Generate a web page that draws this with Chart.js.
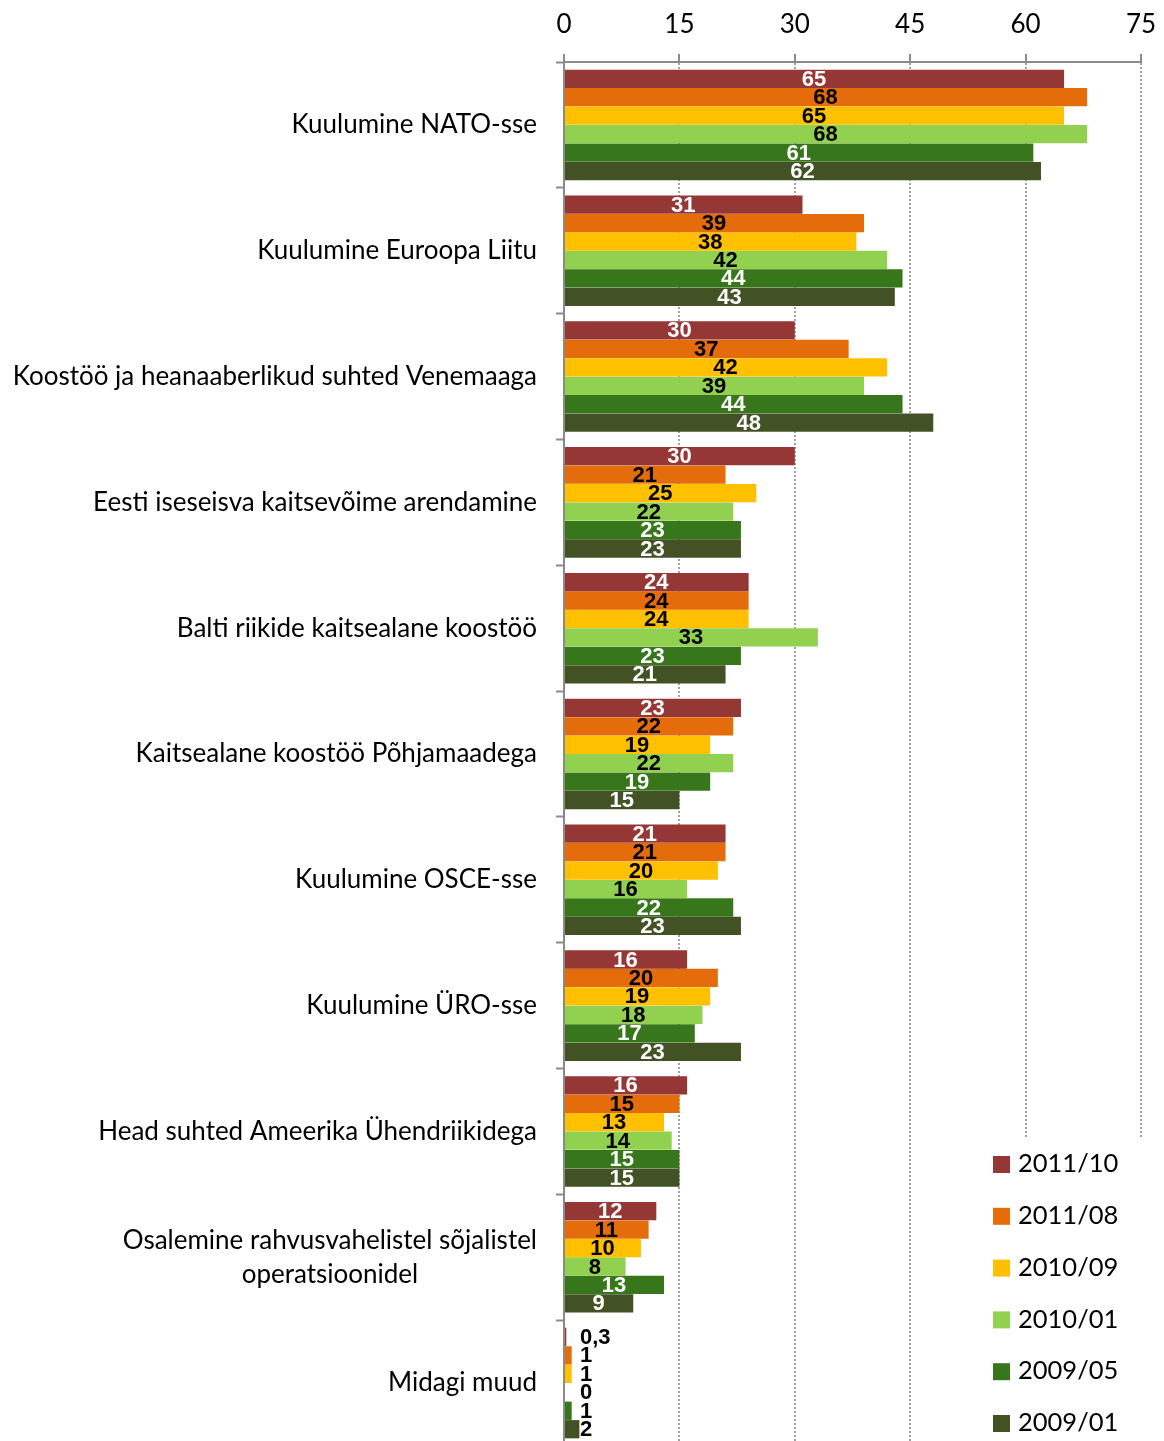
<!DOCTYPE html>
<html>
<head>
<meta charset="utf-8">
<script src="https://cdn.jsdelivr.net/npm/chart.js@4"></script>
<style>
  html, body { margin: 0; padding: 0; background: #fff; overflow: hidden; }
  #wrap { width: 1164px; height: 1446px; }
</style>
</head>
<body>
<div id="wrap"><canvas id="chart" width="1164" height="1446"></canvas></div>
<script>
var categories = [
    'Kuulumine NATO-sse',
    'Kuulumine Euroopa Liitu',
    'Koostöö ja heanaaberlikud suhted Venemaaga',
    'Eesti iseseisva kaitsevõime arendamine',
    'Balti riikide kaitsealane koostöö',
    'Kaitsealane koostöö Põhjamaadega',
    'Kuulumine OSCE-sse',
    'Kuulumine ÜRO-sse',
    'Head suhted Ameerika Ühendriikidega',
    ['Osalemine rahvusvahelistel sõjalistel', 'operatsioonidel'],
    'Midagi muud'
];
var seriesNames = ['2011/10', '2011/08', '2010/09', '2010/01', '2009/05', '2009/01'];
var s201110 = [65, 31, 30, 30, 24, 23, 21, 16, 16, 12, 0.3];
var s201108 = [68, 39, 37, 21, 24, 22, 21, 20, 15, 11, 1];
var s201009 = [65, 38, 42, 25, 24, 19, 20, 19, 13, 10, 1];
var s201001 = [68, 42, 39, 22, 33, 22, 16, 18, 14, 8, 0];
var s200905 = [61, 44, 44, 23, 23, 19, 22, 17, 15, 13, 1];
var s200901 = [62, 43, 48, 23, 21, 15, 23, 23, 15, 9, 2];
var xTicks = [0, 15, 30, 45, 60, 75];

var colors = ['#953735', '#E46C0A', '#FFC000', '#92D050', '#37761A', '#435224'];
var labelColors = ['#fff', '#000', '#000', '#000', '#fff', '#fff'];
var allSeries = [s201110, s201108, s201009, s201001, s200905, s200901];

var catFont = '26px Lato, "Open Sans", sans-serif';

var barLabels = {
    id: 'barLabels',
    afterDatasetsDraw: function(chart) {
        var ctx = chart.ctx, x = chart.scales.x;
        ctx.save();
        ctx.font = 'bold 22px "Liberation Sans Narrow", "Liberation Sans", Arial, sans-serif';
        ctx.textBaseline = 'middle';
        chart.data.datasets.forEach(function(ds, di) {
            chart.getDatasetMeta(di).data.forEach(function(bar, i) {
                var v = ds.data[i];
                var txt = String(v).replace('.', ',');
                var x0 = x.getPixelForValue(0);
                if (v < 3) {
                    ctx.fillStyle = '#000';
                    ctx.textAlign = 'left';
                    ctx.fillText(txt, x0 + 16, bar.y + 1);
                } else {
                    ctx.fillStyle = labelColors[di];
                    ctx.textAlign = 'center';
                    ctx.fillText(txt, (x0 + bar.x) / 2, bar.y + 1);
                }
            });
        });
        ctx.restore();
    }
};

var catLabels = {
    id: 'catLabels',
    afterDraw: function(chart) {
        var ctx = chart.ctx, y = chart.scales.y;
        ctx.save();
        ctx.font = catFont;
        ctx.fillStyle = '#000';
        ctx.textBaseline = 'middle';
        categories.forEach(function(c, i) {
            var cy = y.getPixelForValue(i);
            var right = 537;
            if (Array.isArray(c)) {
                var w = Math.max.apply(null, c.map(function(t) { return ctx.measureText(t).width; }));
                var mid = right - w / 2;
                ctx.textAlign = 'center';
                c.forEach(function(t, k) {
                    ctx.fillText(t, mid, cy + (k - (c.length - 1) / 2) * 34);
                });
            } else {
                ctx.textAlign = 'right';
                ctx.fillText(c, right, cy);
            }
        });
        ctx.restore();
    }
};

var legendBox = {
    id: 'legendBox',
    afterDraw: function(chart) {
        var ctx = chart.ctx;
        ctx.save();
        ctx.fillStyle = '#fff';
        ctx.fillRect(975, 1137, 189, 320);
        ctx.font = '25.5px Lato, "Open Sans", sans-serif';
        ctx.textBaseline = 'middle';
        ctx.textAlign = 'left';
        chart.data.datasets.forEach(function(ds, i) {
            var cy = 1164 + i * 51.8;
            ctx.fillStyle = ds.backgroundColor;
            ctx.fillRect(993, cy - 8, 17, 17);
            ctx.fillStyle = '#000';
            ctx.fillText(ds.label, 1018, cy);
        });
        ctx.restore();
    }
};

new Chart(document.getElementById('chart'), {
    type: 'bar',
    data: {
        labels: categories,
        datasets: seriesNames.map(function(name, i) {
            return {
                label: name,
                data: allSeries[i],
                backgroundColor: colors[i],
                borderWidth: 0,
                categoryPercentage: 0.88,
                barPercentage: 0.99
            };
        })
    },
    options: {
        indexAxis: 'y',
        responsive: false,
        animation: false,
        layout: { padding: { left: 0, right: 23, top: 0, bottom: 0 } },
        plugins: {
            legend: { display: false },
            tooltip: { enabled: false }
        },
        scales: {
            x: {
                position: 'top',
                min: 0,
                max: 75,
                afterBuildTicks: function(scale) {
                    scale.ticks = xTicks.map(function(v) { return { value: v }; });
                },
                afterFit: function(scale) {
                    scale.height = 62;
                    scale.paddingRight = 0;
                    scale.paddingLeft = 0;
                },
                grid: {
                    color: function(c) { return c.tick && c.tick.value === 0 ? 'rgba(0,0,0,0)' : '#a0a0a0'; },
                    lineWidth: 2,
                    tickLength: 8,
                    tickColor: '#8a8a8a',
                    tickWidth: 2,
                    tickBorderDash: []
                },
                border: { display: true, color: '#8a8a8a', width: 2, dash: [2, 2] },
                ticks: {
                    color: '#000',
                    padding: 14,
                    font: { family: 'Lato, "Open Sans", sans-serif', size: 26 }
                }
            },
            y: {
                afterFit: function(scale) { scale.width = 564; },
                grid: {
                    offset: true,
                    drawOnChartArea: false,
                    tickLength: 8,
                    tickColor: '#8a8a8a',
                    tickWidth: 2
                },
                border: { display: true, color: '#8a8a8a', width: 2 },
                ticks: { display: false }
            }
        }
    },
    plugins: [barLabels, catLabels, legendBox]
});
</script>
</body>
</html>
